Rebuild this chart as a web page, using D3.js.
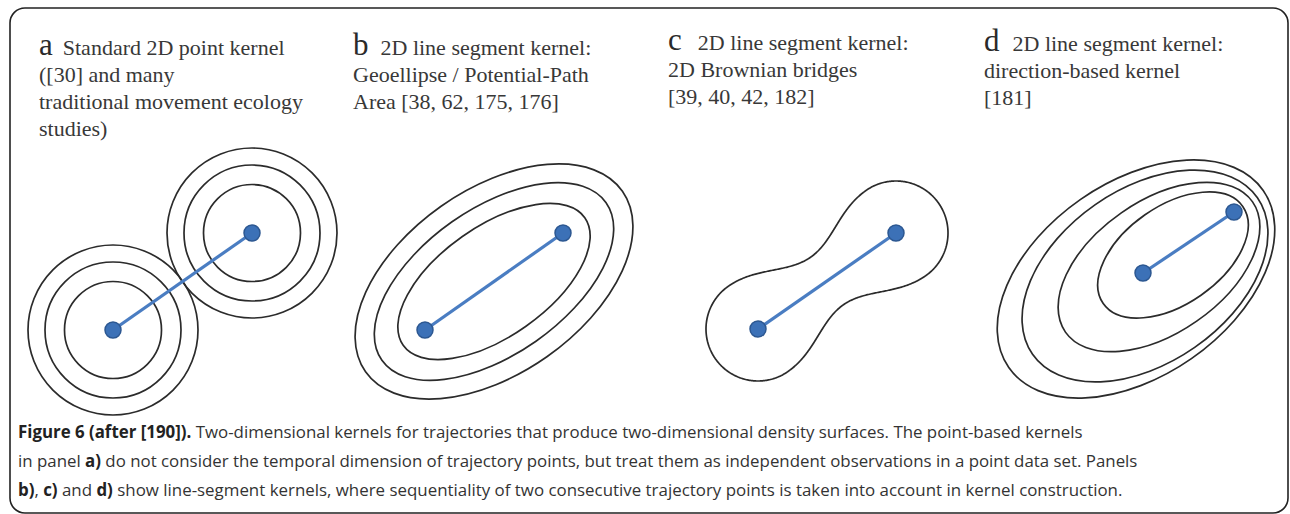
<!DOCTYPE html>
<html>
<head>
<meta charset="utf-8">
<script src="https://cdn.jsdelivr.net/npm/d3@7"></script>
<style>
  body { margin: 0; background: #fff; }
  svg { display: block; }
</style>
</head>
<body>
<div id="figure"></div>
<script>
// panel letters and titles
var panelLetters = ["a", "b", "c", "d"];
var panelTitles = [
  ["Standard 2D point kernel", "([30] and many", "traditional movement ecology", "studies)"],
  ["2D line segment kernel:", "Geoellipse / Potential-Path", "Area [38, 62, 175, 176]"],
  ["2D line segment kernel:", "2D Brownian bridges", "[39, 40, 42, 182]"],
  ["2D line segment kernel:", "direction-based kernel", "[181]"]
];

// trajectory segments (figure units, y up)
var segStart = [[10.3, 8.0], [41.5, 8.0], [74.8, 8.1], [113.3, 13.7]];
var segEnd   = [[24.2, 17.7], [55.3, 17.7], [88.6, 17.7], [122.4, 19.8]];

// a) point kernel contour radii
var pointRadii = [4.85, 6.8, 8.5];
// b) geoellipse semi axes
var geoMajor = [11.1, 13.7, 15.7];
var geoMinor = [5.5, 7.3, 9.2];
// c) brownian bridge: end lobe radius, end spread, neck half-width, neck spread
var bridgeLobe = 5.2;
var bridgeSigma = 4.5;
var bridgeNeck = 3.2;
var bridgeNeckSigma = 2.4;
// d) direction-based kernel ellipses
var dirCentres = [[116.3, 15.5], [114.9, 14.3], [113.5, 13.4], [112.6, 13.1]];
var dirMajor = [8.5, 11.4, 13.7, 15.5];
var dirMinor = [4.9, 6.6, 8.7, 9.7];

// caption, pieces of [text, bold]
var captionLines = [
  [["Figure 6 (after [190]).", true], [" Two-dimensional kernels for trajectories that produce two-dimensional density surfaces. The point-based kernels", false]],
  [["in panel ", false], ["a)", true], [" do not consider the temporal dimension of trajectory points, but treat them as independent observations in a point data set. Panels", false]],
  [["b)", true], [", ", false], ["c)", true], [" and ", false], ["d)", true], [" show line-segment kernels, where sequentiality of two consecutive trajectory points is taken into account in kernel construction.", false]]
];

var W = 1290, H = 514;

var svg = d3.select("#figure").append("svg")
  .attr("width", W)
  .attr("height", H);

// frame
svg.append("rect")
  .attr("x", 10).attr("y", 8)
  .attr("width", 1278).attr("height", 505)
  .attr("rx", 15).attr("ry", 15)
  .style("fill", "none")
  .style("stroke", "#222")
  .style("stroke-width", 1.6);

// scales: 1 unit = 10px
var x = d3.scaleLinear().domain([0, 128]).range([10, 1290]);
var y = d3.scaleLinear().domain([0, 30]).range([410, 110]);
var len = d3.scaleLinear().domain([0, 1]).range([0, 10]);

var contourColor = "#2b2b2b";

// titles
var titleX = [39, 353, 668, 984];
var titleY = [55, 55, 50, 51];
var titleGap = [10, 12, 16, 13];
var lineStep = 27;

panelTitles.forEach(function(lines, i) {
  var g = svg.append("g").attr("class", "title");
  var letter = g.append("text")
    .attr("x", titleX[i]).attr("y", titleY[i])
    .style("font-family", "'Liberation Serif', 'Times New Roman', serif")
    .style("font-size", "31px")
    .style("fill", "#2a2a2a")
    .text(panelLetters[i]);
  var lw = letter.node().getComputedTextLength();
  lines.forEach(function(t, k) {
    g.append("text")
      .attr("x", k == 0 ? titleX[i] + lw + titleGap[i] : titleX[i])
      .attr("y", titleY[i] + k * lineStep)
      .style("font-family", "'Liberation Serif', 'Times New Roman', serif")
      .style("font-size", "22px")
      .style("fill", "#383838")
      .text(t);
  });
});

// helpers
function segAngle(i) {
  return Math.atan2(y(segEnd[i][1]) - y(segStart[i][1]), x(segEnd[i][0]) - x(segStart[i][0])) * 180 / Math.PI;
}

function drawSegment(i) {
  svg.append("line")
    .attr("x1", x(segStart[i][0])).attr("y1", y(segStart[i][1]))
    .attr("x2", x(segEnd[i][0])).attr("y2", y(segEnd[i][1]))
    .style("stroke", "#4a7dc2")
    .style("stroke-width", 3.2);
  svg.selectAll(null)
    .data([segStart[i], segEnd[i]])
    .enter().append("circle")
    .attr("cx", function(d) { return x(d[0]); })
    .attr("cy", function(d) { return y(d[1]); })
    .attr("r", 8)
    .style("fill", "#3c71b7")
    .style("stroke", "#2c5791")
    .style("stroke-width", 1.5);
}

// a) concentric circles around each point
[segStart[0], segEnd[0]].forEach(function(p) {
  svg.selectAll(null)
    .data(pointRadii)
    .enter().append("circle")
    .attr("cx", x(p[0]))
    .attr("cy", y(p[1]))
    .attr("r", function(d) { return len(d); })
    .style("fill", "none")
    .style("stroke", contourColor)
    .style("stroke-width", 1.7);
});
drawSegment(0);

// b) geoellipses centred on the segment
var midB = [(segStart[1][0] + segEnd[1][0]) / 2, (segStart[1][1] + segEnd[1][1]) / 2];
svg.selectAll(null)
  .data(geoMajor)
  .enter().append("ellipse")
  .attr("transform", "translate(" + x(midB[0]) + "," + y(midB[1]) + ") rotate(" + segAngle(1) + ")")
  .attr("rx", function(d) { return len(d); })
  .attr("ry", function(d, k) { return len(geoMinor[k]); })
  .style("fill", "none")
  .style("stroke", contourColor)
  .style("stroke-width", 1.7);
drawSegment(1);

// c) brownian bridge outline from a density grid
var cell = 1, gx0 = 650, gy0 = 150, gn = 350, gm = 270;
var p1 = [x(segStart[2][0]), y(segStart[2][1])];
var p2 = [x(segEnd[2][0]), y(segEnd[2][1])];
var ux = p2[0] - p1[0], uy = p2[1] - p1[1], ul = Math.sqrt(ux * ux + uy * uy);
var s2 = 2 * len(bridgeSigma) * len(bridgeSigma);
var q2 = 2 * len(bridgeNeckSigma) * len(bridgeNeckSigma);
var lobeLevel = Math.exp(-len(bridgeLobe) * len(bridgeLobe) / s2);
var midEnds = 2 * Math.exp(-(ul * ul / 4 + len(bridgeNeck) * len(bridgeNeck)) / s2);
var neckWeight = (lobeLevel - midEnds) / Math.exp(-len(bridgeNeck) * len(bridgeNeck) / q2);

function segDist2(px, py) {
  var t = ((px - p1[0]) * ux + (py - p1[1]) * uy) / (ul * ul);
  t = Math.max(0, Math.min(1, t));
  var cx = p1[0] + t * ux, cy = p1[1] + t * uy;
  return (px - cx) * (px - cx) + (py - cy) * (py - cy);
}
function dens(px, py) {
  var d1 = (px - p1[0]) * (px - p1[0]) + (py - p1[1]) * (py - p1[1]);
  var d2 = (px - p2[0]) * (px - p2[0]) + (py - p2[1]) * (py - p2[1]);
  return Math.exp(-d1 / s2) + Math.exp(-d2 / s2) + neckWeight * Math.exp(-segDist2(px, py) / q2);
}
var grid = new Array(gn * gm);
for (var j = 0; j < gm; j++) {
  for (var i = 0; i < gn; i++) {
    grid[j * gn + i] = dens(gx0 + (i + 0.5) * cell, gy0 + (j + 0.5) * cell);
  }
}
var threshold = dens(p2[0] + ux / ul * len(bridgeLobe), p2[1] + uy / ul * len(bridgeLobe));
var contours = d3.contours().size([gn, gm]).thresholds([threshold])(grid);
svg.append("path")
  .datum(contours[0])
  .attr("d", d3.geoPath(d3.geoIdentity().scale(cell).translate([gx0, gy0])))
  .style("fill", "none")
  .style("stroke", contourColor)
  .style("stroke-width", 1.7);
drawSegment(2);

// d) direction-based ellipses
var angD = segAngle(3) - 1;
svg.selectAll(null)
  .data(dirCentres)
  .enter().append("ellipse")
  .attr("transform", function(d) { return "translate(" + x(d[0]) + "," + y(d[1]) + ") rotate(" + angD + ")"; })
  .attr("rx", function(d, k) { return len(dirMajor[k]); })
  .attr("ry", function(d, k) { return len(dirMinor[k]); })
  .style("fill", "none")
  .style("stroke", contourColor)
  .style("stroke-width", 1.7);
drawSegment(3);

// caption
var capX = 18, capY = [438, 467, 496];
var capWidth = [1065, 1120, 1105];
captionLines.forEach(function(pieces, i) {
  var t = svg.append("text")
    .attr("x", 0).attr("y", 0)
    .style("font-family", "'Open Sans', 'Noto Sans', sans-serif")
    .style("font-size", "17px")
    .style("fill", "#333");
  pieces.forEach(function(p) {
    t.append("tspan")
      .style("font-weight", p[1] ? "bold" : "normal")
      .style("fill", p[1] ? "#222" : "#333")
      .text(p[0]);
  });
  var w = t.node().getComputedTextLength();
  t.attr("transform", "translate(" + capX + "," + capY[i] + ") scale(" + (capWidth[i] / w) + ",1)");
});
</script>
</body>
</html>
